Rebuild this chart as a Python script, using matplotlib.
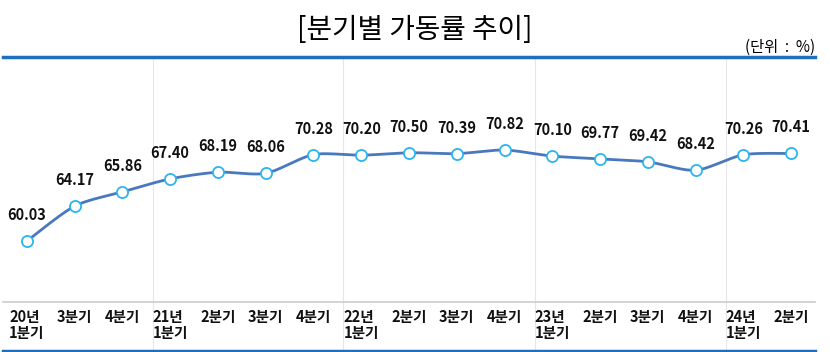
import numpy as np
import matplotlib.pyplot as plt

plt.rcParams['font.family'] = ['Noto Sans CJK KR', 'DejaVu Sans']

quarters = ["20년\n1분기", "3분기", "4분기",
            "21년\n1분기", "2분기", "3분기", "4분기",
            "22년\n1분기", "2분기", "3분기", "4분기",
            "23년\n1분기", "2분기", "3분기", "4분기",
            "24년\n1분기", "2분기"]
rates = [60.03, 64.17, 65.86,
         67.40, 68.19, 68.06, 70.28,
         70.20, 70.50, 70.39, 70.82,
         70.10, 69.77, 69.42, 68.42,
         70.26, 70.41]
year_breaks = [2.64, 6.62, 10.64, 14.64]


def smooth(x, y, n=20):
    # Catmull-Rom style curve through the points
    x = np.asarray(x, float)
    y = np.asarray(y, float)
    px = np.concatenate([[x[0]], x, [x[-1]]])
    py = np.concatenate([[y[0]], y, [y[-1]]])
    xs, ys = [], []
    t = np.linspace(0, 1, n)
    for i in range(1, len(px) - 2):
        for p, out in ((px, xs), (py, ys)):
            p0, p1, p2, p3 = p[i - 1], p[i], p[i + 1], p[i + 2]
            m1 = (p2 - p0) / 2 * 0.8
            m2 = (p3 - p1) / 2 * 0.8
            h00 = 2 * t**3 - 3 * t**2 + 1
            h10 = t**3 - 2 * t**2 + t
            h01 = -2 * t**3 + 3 * t**2
            h11 = t**3 - t**2
            out.extend(h00 * p1 + h10 * m1 + h01 * p2 + h11 * m2)
    return np.array(xs), np.array(ys)


fig = plt.figure(figsize=(8.3, 3.52), dpi=100)
ax = fig.add_axes([3 / 830, 1 - 302 / 352, 812 / 830, 245 / 352])

x = np.arange(len(rates))
sx, sy = smooth(x, rates)
ax.plot(sx, sy, color='#4a78bf', lw=2.0, zorder=2)
ax.plot(x, rates, 'o', ms=8, mfc='white', mec='#2bb5ee', mew=1.3, zorder=3)
for xi, v in zip(x, rates):
    ax.annotate(f"{v:.2f}", (xi, v), xytext=(0, 13), textcoords='offset points',
                ha='center', va='bottom', fontsize=10.5, fontweight='bold', color='#111111')

ax.set_xlim(-0.5, 16.5)
ax.set_ylim(52.8, 81.85)
for b in year_breaks:
    ax.axvline(b, color='#e6e6e6', lw=0.8, zorder=0)
ax.set_xticks([])
ax.set_yticks([])
for s in ['left', 'right', 'bottom']:
    ax.spines[s].set_visible(False)
ax.spines['top'].set_color('#1f6fc1')
ax.spines['top'].set_linewidth(2.5)

# category table below the plot
tab = fig.add_axes([3 / 830, 1 - 351 / 352, 812 / 830, 49 / 352])
tab.set_xlim(-0.5, 16.5)
tab.set_ylim(0, 1)
for b in year_breaks:
    tab.axvline(b, color='#e6e6e6', lw=0.8, zorder=0)
for xi, q in zip(x, quarters):
    tab.text(xi, 0.86, q, ha='center', va='top', fontsize=10.5, fontweight='bold',
             multialignment='left', linespacing=1.0, color='#111111')
tab.set_xticks([])
tab.set_yticks([])
for s in ['left', 'right']:
    tab.spines[s].set_visible(False)
tab.spines['top'].set_color('#cccccc')
tab.spines['top'].set_linewidth(1.2)
tab.spines['bottom'].set_color('#1f6fc1')
tab.spines['bottom'].set_linewidth(2.5)

fig.text(0.5, 1 - 30 / 352, "[분기별 가동률 추이]", ha='center', va='center', fontsize=20)
fig.text(815 / 830, 1 - 47 / 352, "(단위  :  %)", ha='right', va='center', fontsize=11)

fig.savefig('out.png', dpi=100, facecolor='white')
